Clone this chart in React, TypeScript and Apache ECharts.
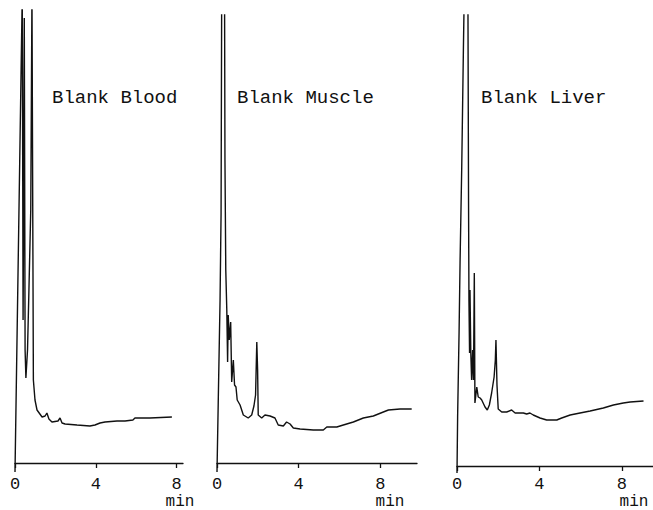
import React, { useEffect, useRef } from "react";
import * as echarts from "echarts";

// Retention time (min) and detector response (arbitrary units).
// Values above the panel top are off-scale peaks (clipped by the plot area).
const bloodTime = [0, 0.36, 0.38, 0.4, 0.43, 0.46, 0.5, 0.54, 0.62, 0.69, 0.78, 0.84, 0.87, 0.91, 0.99, 1.09, 1.34, 1.49, 1.58, 1.68, 1.83, 2.13, 2.23, 2.33, 2.48, 3.07, 3.71, 3.96, 4.21, 4.46, 5.05, 5.45, 5.84, 5.94, 6.68, 7.77];
const bloodSignal = [-9, 470, 470, 143, 263, 445, 113, 85, 113, 173, 253, 470, 470, 83, 63, 53, 46, 47, 50, 44, 41, 42, 45, 40, 39, 38, 37, 38, 40, 41, 42, 42, 43, 45, 45, 46];

const muscleTime = [0, 0.06, 0.15, 0.2, 0.23, 0.37, 0.39, 0.43, 0.48, 0.52, 0.55, 0.6, 0.67, 0.72, 0.8, 0.86, 0.93, 0.99, 1.13, 1.29, 1.53, 1.7, 1.81, 1.89, 1.95, 1.99, 2.02, 2.19, 2.35, 2.6, 2.84, 3.0, 3.25, 3.41, 3.58, 3.74, 4.07, 4.72, 5.21, 5.38, 5.54, 5.87, 6.19, 6.68, 7.17, 7.66, 8.15, 8.4, 8.97, 9.54];
const muscleSignal = [-9, 60, 163, 250, 470, 470, 303, 193, 153, 101, 148, 123, 141, 81, 103, 78, 76, 63, 58, 48, 45, 48, 57, 68, 121, 93, 48, 45, 48, 47, 45, 38, 37, 41, 39, 35, 34, 33, 33, 36, 36, 36, 38, 41, 45, 47, 51, 53, 54, 54];

const liverTime = [0, 0.03, 0.1, 0.15, 0.23, 0.31, 0.35, 0.53, 0.56, 0.58, 0.61, 0.63, 0.67, 0.71, 0.76, 0.8, 0.84, 0.87, 0.96, 1.03, 1.12, 1.2, 1.36, 1.47, 1.57, 1.68, 1.8, 1.86, 1.89, 1.94, 2.0, 2.17, 2.41, 2.65, 2.82, 3.22, 3.38, 3.54, 3.7, 4.03, 4.35, 4.84, 5.08, 5.49, 5.97, 6.46, 7.1, 7.59, 8.07, 8.4, 9.05];
const liverSignal = [-7, 49, 133, 206, 299, 416, 470, 470, 266, 166, 113, 176, 113, 86, 116, 86, 193, 63, 79, 69, 68, 66, 59, 56, 61, 73, 89, 106, 126, 81, 57, 54, 54, 56, 53, 53, 52, 53, 51, 48, 46, 46, 48, 51, 53, 55, 58, 61, 63, 64, 65];

const panelTitles = ["Blank Blood", "Blank Muscle", "Blank Liver"];
const tickValues = [0, 4, 8];
const axisUnit = "min";

const FONT = "'Liberation Mono', 'DejaVu Sans Mono', monospace";
const INK = "#111";

const zip = (t: number[], v: number[]) => t.map((x, i) => [x, v[i]]);

export default function App() {
  const ref = useRef<HTMLDivElement>(null);
  useEffect(() => {
    if (!ref.current) return;
    const chart = echarts.init(ref.current, null, { renderer: "svg" });

    const panels = [
      { data: zip(bloodTime, bloodSignal), left: 15, width: 168, top: 10, height: 463, xMax: 8.32, yMax: 453, labelMargin: 4, unitX: 180, unitY: 502, titleLeft: 52 },
      { data: zip(muscleTime, muscleSignal), left: 217, width: 200, top: 15, height: 458, xMax: 9.8, yMax: 448, labelMargin: 4, unitX: 390, unitY: 502, titleLeft: 237 },
      { data: zip(liverTime, liverSignal), left: 457, width: 196, top: 15, height: 461, xMax: 9.51, yMax: 451, labelMargin: 1, unitX: 634, unitY: 502, titleLeft: 481 },
    ];

    const option: any = {
      animation: false,
      backgroundColor: "#fff",
      title: panels.map((p, i) => ({
        text: panelTitles[i],
        left: p.titleLeft,
        top: 88,
        padding: 0,
        textStyle: { fontFamily: FONT, fontSize: 19, fontWeight: "normal", color: INK },
      })),
      grid: panels.map((p) => ({ left: p.left, top: p.top, width: p.width, height: p.height, containLabel: false })),
      xAxis: panels.map((p, i) => ({
        type: "value",
        gridIndex: i,
        min: 0,
        max: p.xMax,
        interval: 4,
        axisLine: { show: true, onZero: true, lineStyle: { color: INK, width: 1.3 } },
        axisTick: { show: true, length: 5, customValues: tickValues, lineStyle: { color: INK, width: 1.3 } },
        axisLabel: { show: true, customValues: tickValues, margin: p.labelMargin, lineHeight: 14, fontFamily: FONT, fontSize: 17, color: INK },
        splitLine: { show: false },
      })),
      yAxis: panels.map((p, i) => ({
        type: "value",
        gridIndex: i,
        min: -10,
        max: p.yMax,
        show: false,
        splitLine: { show: false },
      })),
      series: panels.map((p, i) => ({
        type: "line",
        xAxisIndex: i,
        yAxisIndex: i,
        data: p.data,
        showSymbol: false,
        symbol: "none",
        clip: true,
        lineStyle: { color: INK, width: 1.4 },
      })),
      graphic: panels.map((p) => ({
        type: "text",
        x: p.unitX,
        y: p.unitY,
        style: { text: axisUnit, font: `16px ${FONT}`, lineHeight: 14, fill: INK, textAlign: "center", textVerticalAlign: "middle" },
      })),
    };

    chart.setOption(option);
    return () => chart.dispose();
  }, []);

  return <div ref={ref} style={{ position: "absolute", left: 0, top: 0, width: 653, height: 510 }} />;
}
